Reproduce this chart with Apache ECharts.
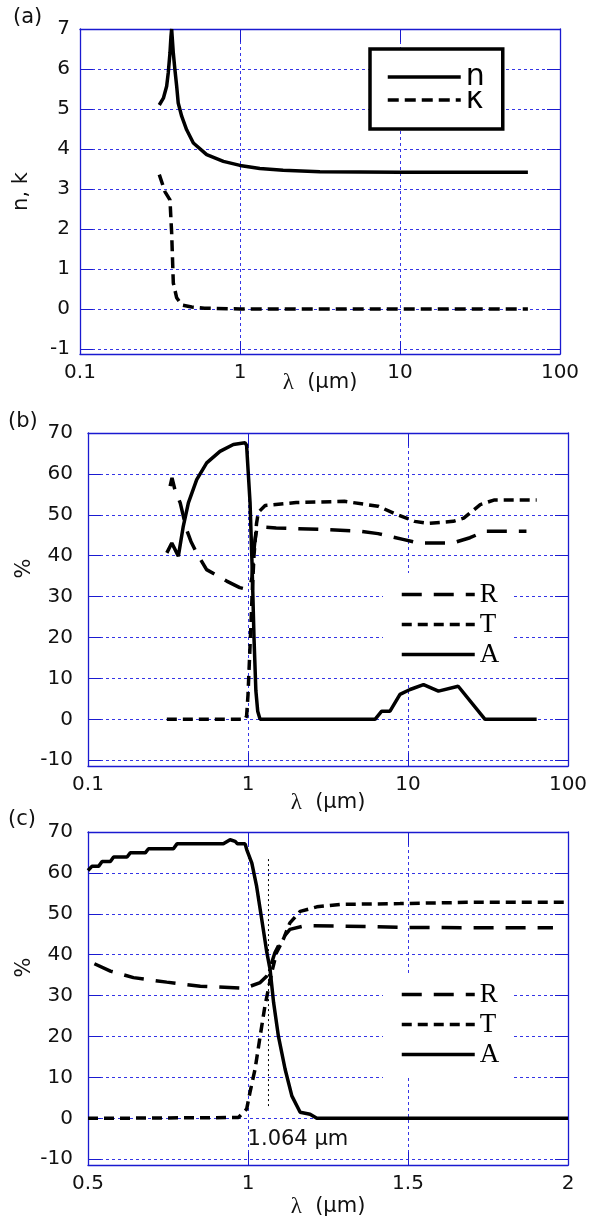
<!DOCTYPE html>
<html>
<head>
<meta charset="utf-8">
<script src="https://cdn.jsdelivr.net/npm/echarts@6/dist/echarts.min.js"></script>
<style>
  html, body { margin: 0; padding: 0; background: #fff; }
  #chart { width: 592px; height: 1219px; }
</style>
</head>
<body>
<div id="chart"></div>
<script>
// (a) refractive index n and extinction k vs wavelength (um)
var nCurve = [[0.313,5.10],[0.332,5.27],[0.348,5.57],[0.356,5.90],[0.365,6.40],[0.370,6.80],[0.374,7.00],[0.383,6.40],
  [0.392,5.98],[0.402,5.57],[0.411,5.15],[0.432,4.82],[0.464,4.48],[0.511,4.15],[0.619,3.86],[0.787,3.69],[1.0,3.59],
  [1.33,3.51],[1.86,3.47],[3.16,3.43],[10,3.42],[31.6,3.42],[63,3.42]];
var kCurve = [[0.313,3.36],[0.340,2.93],[0.365,2.73],[0.374,1.90],[0.383,0.65],[0.402,0.28],[0.433,0.10],[0.499,0.05],
  [0.6,0.02],[1.0,0],[63,0]];

// (b) R, T, A (%) from 0.3 to 60 um
var rWide = [[0.326,57],[0.335,59],[0.350,56],[0.377,52.9],[0.413,46.4],[0.44,43.5],[0.477,40.7],[0.551,36.6],[0.736,33.8],
  [0.888,32.2],[0.98,31.8],[1.04,33.2],[1.06,34.8],[1.084,40.5],[1.105,43.7],[1.131,46.2],[1.18,47.1],[1.5,46.8],[3,46.4],
  [5,46],[6.5,45.4],[9.3,44],[11.6,43.1],[19,43.1],[24.4,44.4],[30.3,46],[55,46]];
var tWide = [[0.311,0],[0.957,0],[0.98,0.8],[1.0,6],[1.03,18],[1.06,30],[1.09,40],[1.13,47.8],[1.16,50.6],[1.28,52.3],
  [2,53],[4,53.3],[6.5,52.1],[8.5,50.1],[11,48.4],[13.4,47.9],[19.2,48.4],[22.3,49.2],[28.3,52.5],[34.4,53.6],[63.7,53.6]];
var aWide = [[0.311,40.7],[0.334,43.1],[0.367,39.9],[0.394,47.2],[0.424,52.9],[0.478,58.6],[0.552,62.7],[0.668,65.5],
  [0.81,67.2],[0.957,67.6],[0.98,67],[1.03,53],[1.06,38],[1.09,20],[1.12,7],[1.15,2],[1.19,0],[6.22,0],[6.85,2],[7.72,2],
  [8.91,6.1],[10.3,7.3],[12.5,8.5],[15.5,6.9],[20.6,8.1],[30.3,0],[63.7,0]];

// (c) R, T, A (%) from 0.5 to 2 um
var rNear = [[0.52,37.8],[0.57,36],[0.642,34.4],[0.746,33.3],[0.851,32.3],[0.99,31.8],[1.038,33.2],[1.059,34.8],
  [1.069,36.8],[1.084,40.5],[1.105,43.7],[1.131,46.2],[1.178,47.1],[1.287,47],[1.475,46.7],[1.683,46.6],[1.953,46.6]];
var tNear = [[0.5,0],[0.97,0.2],[0.996,2.3],[1.006,6.3],[1.022,12],[1.038,20.1],[1.053,27.5],[1.074,35.6],[1.089,40.5],
  [1.11,43.7],[1.131,47.8],[1.163,50.6],[1.215,51.7],[1.287,52.3],[1.475,52.5],[1.683,52.8],[2,52.8]];
var aNear = [[0.5,60.6],[0.512,61.6],[0.533,61.6],[0.544,62.8],[0.570,62.8],[0.580,63.9],[0.622,63.9],[0.632,64.9],
  [0.679,64.9],[0.689,65.9],[0.767,65.9],[0.778,67.1],[0.923,67.1],[0.944,68.1],[0.960,67.7],[0.967,67.1],[0.991,67.1],
  [0.996,65.7],[1.012,62.4],[1.027,56.7],[1.043,48.6],[1.059,40.5],[1.069,36.4],[1.08,28.3],[1.095,20.1],[1.116,12],
  [1.137,5.5],[1.163,1.5],[1.194,1.0],[1.215,0],[2,0]];

// laser wavelength marker in (c)
var laserLine = [[1.064,3],[1.064,64]];
var laserLabel = [[1.156,-5.3]];

var blue = '#1a1ad0';
var gridBlue = '#3535e6';
var sans = 'DejaVu Sans';
var serif = 'Liberation Serif';

function intLabel(v) {
  return Math.abs(v - Math.round(v)) < 1e-9 ? String(Math.round(v)) : '';
}

function xBottom(i, type, min, max, gap) {
  var ax = {
    gridIndex: i, type: type, min: min, max: max, position: 'bottom',
    axisLine: {onZero: false, lineStyle: {color: blue, width: 1.3}},
    axisTick: {inside: true, length: 13, lineStyle: {color: blue}},
    axisLabel: {margin: 9, color: '#111', fontSize: 20, fontFamily: sans},
    splitLine: {show: true, lineStyle: {color: gridBlue, type: [3, 3], width: 1}},
    name: '{l|λ}  (μm)', nameLocation: 'middle', nameGap: gap, nameMoveOverlap: false,
    nameTextStyle: {color: '#111', fontSize: 21, fontFamily: sans,
      rich: {l: {fontFamily: serif, fontSize: 23, color: '#111'}}}
  };
  if (type === 'log') ax.logBase = 10;
  else ax.interval = 0.5;
  return ax;
}

function xTop(i, type, min, max) {
  var ax = {
    gridIndex: i, type: type, min: min, max: max, position: 'top',
    axisLine: {onZero: false, lineStyle: {color: blue, width: 1.3}},
    axisTick: {inside: true, length: 13, lineStyle: {color: blue}},
    axisLabel: {show: false}, splitLine: {show: false}
  };
  if (type === 'log') ax.logBase = 10;
  else ax.interval = 0.5;
  return ax;
}

function yLeft(i, min, max, margin, name, gap, shift) {
  return {
    gridIndex: i, type: 'value', min: min, max: max, splitNumber: 8, position: 'left',
    axisLine: {onZero: false, lineStyle: {color: blue, width: 1.3}},
    axisTick: {inside: true, length: 13, lineStyle: {color: blue}},
    axisLabel: {margin: margin, color: '#111', fontSize: 20, fontFamily: sans, formatter: intLabel},
    splitLine: {show: true, lineStyle: {color: gridBlue, type: [3, 3], width: 1}},
    name: name, nameLocation: 'middle', nameGap: gap, nameRotate: 90, nameMoveOverlap: false,
    nameTextStyle: {color: '#111', fontSize: 21, fontFamily: sans, padding: [0, 0, 0, shift]}
  };
}

function yRight(i, min, max) {
  return {
    gridIndex: i, type: 'value', min: min, max: max, splitNumber: 8, position: 'right',
    axisLine: {onZero: false, lineStyle: {color: blue, width: 1.3}},
    axisTick: {inside: true, length: 13, lineStyle: {color: blue}},
    axisLabel: {show: false}, splitLine: {show: false}
  };
}

function curve(name, data, xi, yi, dash) {
  return {
    type: 'line', name: name, data: data, xAxisIndex: xi, yAxisIndex: yi,
    symbol: 'none', showSymbol: false, animation: false, z: 3,
    itemStyle: {color: '#000'},
    lineStyle: {color: '#000', width: 3.5, type: dash || 'solid', cap: 'butt'}
  };
}

function legendBox(names, top, font) {
  return {
    data: names, orient: 'vertical', left: 383, top: top, padding: [8, 14, 10, 17],
    itemWidth: 73, itemHeight: 14, itemGap: 3, backgroundColor: '#fff', selectedMode: false,
    itemStyle: {opacity: 0}, lineStyle: {width: 3.5},
    textStyle: {fontFamily: font, fontSize: 27, lineHeight: 27, color: '#000'}
  };
}

var chart = echarts.init(document.getElementById('chart'));

var option = {
  backgroundColor: '#fff',
  animation: false,
  title: [
    {text: '(a)', left: 8, top: 2, textStyle: {fontFamily: sans, fontSize: 21, fontWeight: 'normal', color: '#111'}},
    {text: '(b)', left: 3, top: 406, textStyle: {fontFamily: sans, fontSize: 21, fontWeight: 'normal', color: '#111'}},
    {text: '(c)', left: 3, top: 804, textStyle: {fontFamily: sans, fontSize: 21, fontWeight: 'normal', color: '#111'}}
  ],
  grid: [
    {left: 80, top: 29, width: 480, height: 325},
    {left: 88, top: 433, width: 480, height: 333},
    {left: 88, top: 832, width: 480, height: 334}
  ],
  xAxis: [
    xBottom(0, 'log', 0.1, 100, 17),
    xBottom(1, 'log', 0.1, 100, 25),
    xBottom(2, 'value', 0.5, 2, 30),
    xTop(0, 'log', 0.1, 100),
    xTop(1, 'log', 0.1, 100),
    xTop(2, 'value', 0.5, 2)
  ],
  yAxis: [
    yLeft(0, -1.125, 7, 10, 'n, k', 48, 0),
    yLeft(1, -11.4, 70, 15, '%', 53, 62),
    yLeft(2, -11.4, 70, 15, '%', 53, 62),
    yRight(0, -1.125, 7),
    yRight(1, -11.4, 70),
    yRight(2, -11.4, 70)
  ],
  legend: [
    {
      data: ['n', 'κ'], orient: 'vertical', left: 370, top: 49, padding: [13, 18, 14, 16],
      itemWidth: 73, itemHeight: 14, itemGap: -7, backgroundColor: '#fff',
      borderColor: '#000', borderWidth: 3.5, borderRadius: 0, selectedMode: false,
      itemStyle: {opacity: 0}, lineStyle: {width: 3.5},
      textStyle: {fontFamily: sans, fontSize: 30, lineHeight: 22, color: '#000'}
    },
    legendBox(['R', 'T', 'A'], 573, serif),
    legendBox(['R', 'T', 'A'], 973, serif)
  ],
  series: [
    curve('n', nCurve, 0, 0),
    curve('κ', kCurve, 0, 0, [11, 6]),
    curve('R', rWide, 1, 1, [20, 12]),
    curve('T', tWide, 1, 1, [10, 6]),
    curve('A', aWide, 1, 1),
    curve('R', rNear, 2, 2, [20, 12]),
    curve('T', tNear, 2, 2, [10, 6]),
    curve('A', aNear, 2, 2),
    {
      type: 'line', name: 'laser', data: laserLine, xAxisIndex: 2, yAxisIndex: 2,
      symbol: 'none', animation: false, z: 2,
      lineStyle: {color: '#000', width: 1, type: [2, 3]}
    },
    {
      type: 'scatter', name: 'laserText', data: laserLabel, xAxisIndex: 2, yAxisIndex: 2,
      symbolSize: 0, animation: false, z: 4, itemStyle: {opacity: 1},
      label: {show: true, position: 'inside', formatter: '1.064 μm', opacity: 1,
        color: '#111', fontSize: 21, fontFamily: sans}
    }
  ]
};

chart.setOption(option);
</script>
</body>
</html>
